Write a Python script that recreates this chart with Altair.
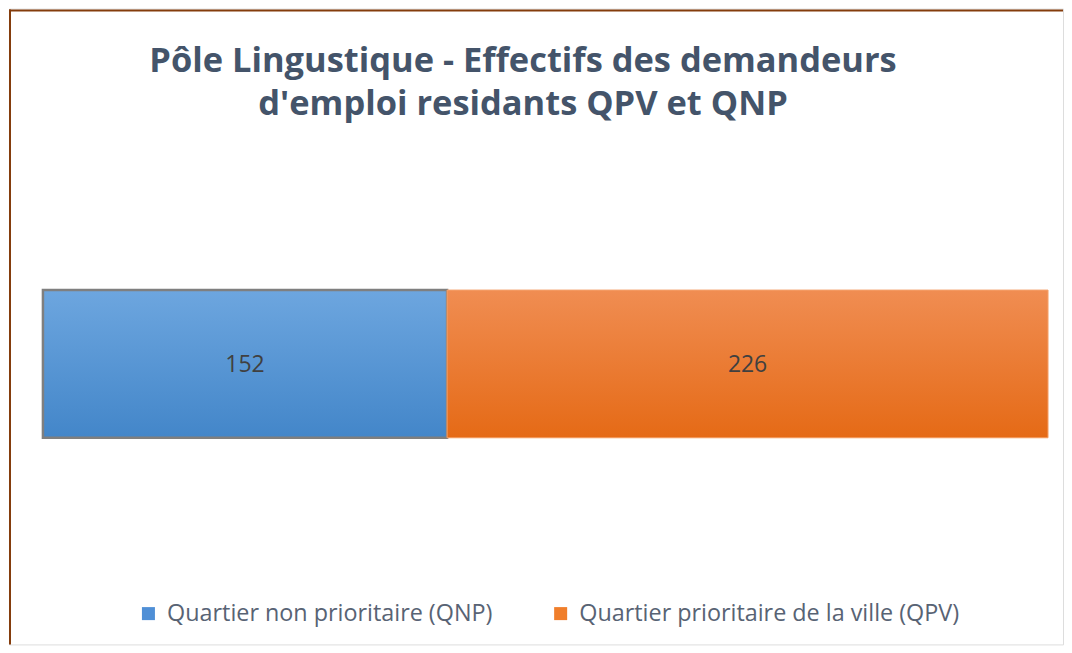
import altair as alt
import pandas as pd

categories = ["Quartier non prioritaire (QNP)", "Quartier prioritaire de la ville (QPV)"]
values = [152, 226]
order = [0, 1]
row_label = ["Pôle Lingustique"]

df = pd.DataFrame({"cat": categories, "val": values, "ord": order, "row": row_label * 2})

W, H = 1056, 637

blue_grad = {"gradient": "linear", "x1": 0, "y1": 0, "x2": 0, "y2": 1,
             "stops": [{"offset": 0, "color": "#6DA6DF"}, {"offset": 1, "color": "#4386C9"}]}
orange_grad = {"gradient": "linear", "x1": 0, "y1": 0, "x2": 0, "y2": 1,
               "stops": [{"offset": 0, "color": "#F08D52"}, {"offset": 1, "color": "#E56A16"}]}

test = "datum.cat == '" + categories[0] + "'"

base = alt.Chart(df).transform_stack(
    stack="val", as_=["x0", "x1"], groupby=["row"], sort=[alt.SortField("ord")]
).transform_calculate(mid="(datum.x0 + datum.x1) / 2")

xscale = alt.Scale(domain=[0, sum(values)], range=[34, 1041], nice=False, zero=True)
yscale = alt.Scale(range=[282, 430], paddingInner=0, paddingOuter=0)

x = alt.X("x0:Q", scale=xscale, axis=None)
x2 = alt.X2("x1:Q")
y = alt.Y("row:N", scale=yscale, axis=None)

legend_layer = base.mark_bar().encode(
    x=x, x2=x2, y=y,
    color=alt.Color("cat:N", sort=categories,
                    scale=alt.Scale(domain=categories, range=["#4F8FD6", "#F07E2B"]),
                    legend=alt.Legend(title=None, orient="none", direction="horizontal",
                                      legendX=128, legendY=594, symbolType="square",
                                      symbolSize=170, symbolStrokeWidth=0,
                                      labelFontSize=23.4, labelFont="Open Sans",
                                      labelColor="#586374", labelLimit=700,
                                      labelOffset=7, columnPadding=56)),
)

grad_layer = base.mark_bar().encode(
    x=x, x2=x2, y=y,
    fill={"condition": {"test": test, "value": blue_grad}, "value": orange_grad},
    stroke={"condition": {"test": test, "value": "#7F7F7F"}, "value": "#F5A36C"},
    strokeWidth={"condition": {"test": test, "value": 2.5}, "value": 1},
)

text_layer = base.mark_text(fontSize=23, font="Open Sans", color="#404040", dy=1).encode(
    x=alt.X("mid:Q", scale=xscale, axis=None),
    y=y,
    text=alt.Text("val:Q"),
)

frame_top = alt.Chart(pd.DataFrame({"a": [0]})).mark_rule(color="#843C0C", strokeWidth=2).encode(
    x=alt.value(0), x2=alt.value(W), y=alt.value(2)
)
frame_left = alt.Chart(pd.DataFrame({"a": [0]})).mark_rule(color="#843C0C", strokeWidth=2).encode(
    x=alt.value(1), y=alt.value(1), y2=alt.value(H)
)

chart = alt.layer(legend_layer, grad_layer, text_layer, frame_top, frame_left).properties(
    width=W, height=H,
    padding=0,
    title=alt.TitleParams(
        text=["Pôle Lingustique - Effectifs des demandeurs", "d'emploi residants QPV et QNP"],
        font="Open Sans", fontSize=34.5, fontWeight="bold", color="#44546A",
        anchor="middle", orient="top", offset=-148, dx=-13, lineHeight=43, baseline="bottom",
    ),
).configure_view(strokeWidth=0, strokeOpacity=0).configure(background="white")

chart.save("out.html", embed_options={"renderer": "svg", "actions": False})
